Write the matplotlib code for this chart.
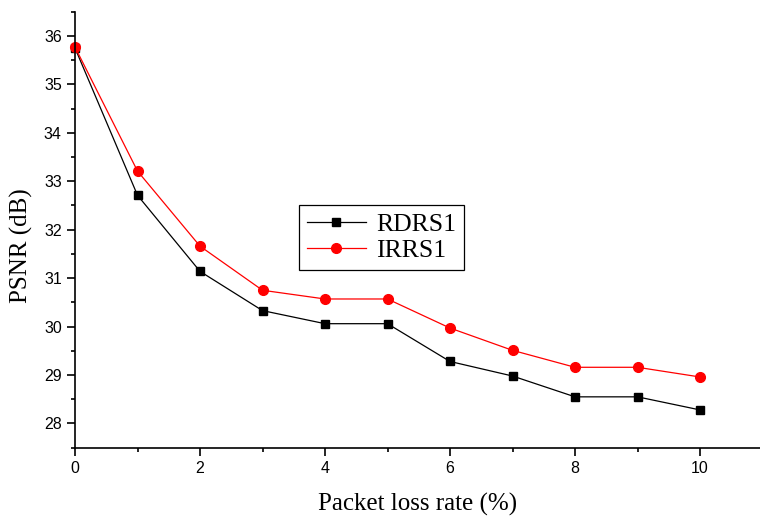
import numpy as np
import matplotlib
matplotlib.use('Agg')
import matplotlib.pyplot as plt
from matplotlib.ticker import MultipleLocator

loss_rate = [0, 1, 2, 3, 4, 5, 6, 7, 8, 9, 10]
rdrs1 = [35.75, 32.71, 31.14, 30.33, 30.06, 30.06, 29.28, 28.98, 28.55, 28.55, 28.28]
irrs1 = [35.77, 33.21, 31.66, 30.75, 30.57, 30.57, 29.97, 29.51, 29.16, 29.16, 28.96]

fig = plt.figure(figsize=(7.6, 5.18), dpi=100)
ax = fig.add_axes([0.0987, 0.1357, 0.9013, 0.8417])

ax.plot(loss_rate, rdrs1, color='black', lw=0.9, marker='s', ms=6.3, label='RDRS1', clip_on=False)
ax.plot(loss_rate, irrs1, color='red', lw=0.9, marker='o', ms=7, label='IRRS1', clip_on=False)

ax.set_xlim(0, 10.96)
ax.set_ylim(27.5, 36.5)
ax.xaxis.set_major_locator(MultipleLocator(2))
ax.xaxis.set_minor_locator(MultipleLocator(1))
ax.yaxis.set_major_locator(MultipleLocator(1))
ax.yaxis.set_minor_locator(MultipleLocator(0.5))
ax.tick_params(which='major', direction='out', length=6, width=1.2, labelsize=11.5)
ax.tick_params(which='minor', direction='out', length=3, width=1.2)
for lab in ax.get_xticklabels() + ax.get_yticklabels():
    lab.set_family('Liberation Sans')
for s in ['top', 'right']:
    ax.spines[s].set_visible(False)
for s in ['left', 'bottom']:
    ax.spines[s].set_linewidth(1.2)

ax.set_xlabel('Packet loss rate (%)', family='Liberation Serif', fontsize=18, labelpad=12)
ax.set_ylabel('PSNR (dB)', family='Liberation Serif', fontsize=18)
ax.yaxis.set_label_coords(-0.062, 0.463)

leg = ax.legend(loc='upper left', bbox_to_anchor=(0.327, 0.557), borderaxespad=0,
                prop={'family': 'Liberation Serif', 'size': 18.5}, fancybox=False,
                framealpha=1, edgecolor='black', handlelength=2.3, handletextpad=0.4,
                labelspacing=0.15, borderpad=0.3)
leg.get_frame().set_linewidth(0.9)

fig.savefig('out.png', dpi=100)
